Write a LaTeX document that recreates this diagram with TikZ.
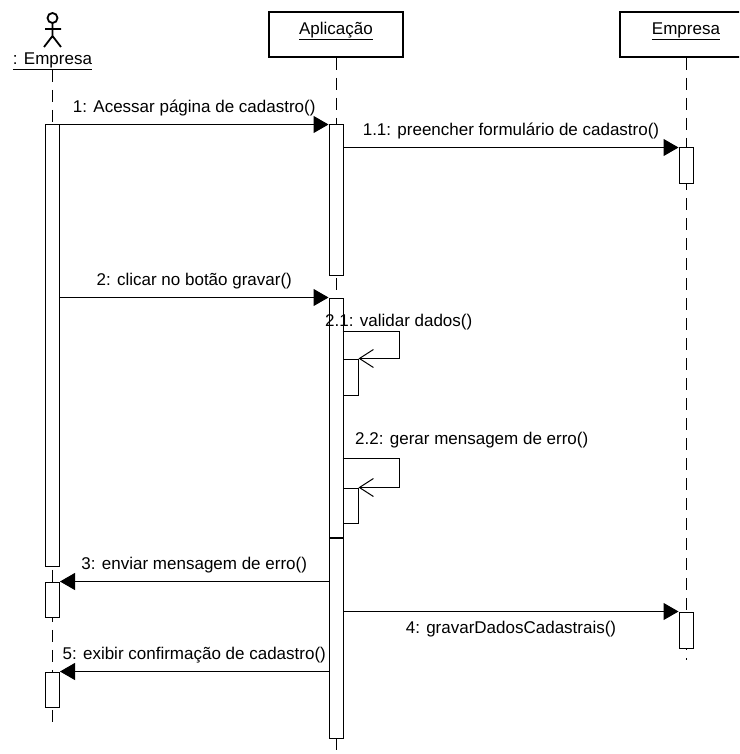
\documentclass[tikz,border=0pt]{standalone}
\usepackage{fontspec}
\setmainfont{Liberation Sans}
\usepackage{tikz}
\usetikzlibrary{arrows.meta,positioning,calc}

\begin{document}
\begin{tikzpicture}[
    x=1pt, y=-1pt,
    every node/.style={font=\fontsize{17}{20}\selectfont},
    objbox/.style={rectangle, draw, line width=2pt, minimum width=134pt, minimum height=45pt, text depth=12pt, inner sep=0pt},
    act/.style={rectangle, draw, fill=white, line width=1pt, minimum width=14pt, inner sep=0pt},
    lifeline/.style={line width=1pt, dash pattern=on 12pt off 8pt},
    msg/.style={-{Triangle[length=15pt,width=17pt]}, line width=1pt},
    selfmsg/.style={-{Straight Barb[length=14pt,width=18pt]}, line width=1pt},
    lbl/.style={inner sep=0pt}
]
\useasboundingbox (0,0) rectangle (739,754);
\clip (0,0) rectangle (739,754);

% Actor
\draw[line width=1.8pt] (52.5,18) circle[radius=5pt];
\draw[line width=1.8pt] (52.5,23) -- (52.5,36) (45,29) -- (61,29) (44,47) -- (52.5,36) -- (61,47);
\node[lbl] (actor) at (52.5,61) {\underline{: Empresa}};

% Objects
\node[objbox] (apphead) at (336,34.5) {\underline{Aplicação}};
\node[objbox, minimum width=132pt] (emphead) at (686,34.5) {\underline{Empresa}};

% Lifelines
\coordinate (actend) at (52.5,725);
\coordinate (append) at (336,754);
\coordinate (empend) at (686,660);
\draw[lifeline] (actor.south) -- (actend);
\draw[lifeline] (apphead.south) -- (append);
\draw[lifeline] (emphead.south) -- (empend);

% Activations
\node[act, minimum height=441pt] (a1) at (52.5,345.5) {};
\node[act, minimum height=35pt] (a2) at (52.5,599.5) {};
\node[act, minimum height=35pt] (a3) at (52.5,689.5) {};
\node[act, minimum height=150pt] (p1) at (336,200) {};
\node[act, minimum height=239pt] (p2) at (336,417.5) {};
\node[act, minimum height=200pt, below=0pt of p2] (p3) {};
\node[act, minimum width=15pt, minimum height=36pt] (s1) at (350.5,377) {};
\node[act, minimum width=15pt, minimum height=35pt] (s2) at (350.5,505.5) {};
\node[act, minimum height=35pt] (e1) at (686,165.5) {};
\node[act, minimum height=36pt] (e2) at (686,630) {};

% Messages
\draw[msg] (a1.north east) -- node[lbl, above=8pt] (l1) {1: Acessar página de cadastro()} (p1.north west);
\draw[msg] (p1.east |- e1.north) -- node[lbl, above=8pt] (l11) {1.1: preencher formulário de cadastro()} (e1.north west);
\draw[msg] (a1.east |- p2.north) -- node[lbl, above=8pt] (l2) {2: clicar no botão gravar()} (p2.north west);

% Self calls
\draw[selfmsg] (s1.north west) ++(0,-27) -- ++(57,0) |- (s1.north east);
\node[lbl, anchor=base west] (l21) at (325,326) {2.1: validar dados()};
\draw[selfmsg] (s2.north west) ++(0,-29) -- ++(57,0) |- (s2.north east);
\node[lbl, anchor=base west] (l22) at (355,444) {2.2: gerar mensagem de erro()};

% Replies
\draw[msg] (p3.west |- a2.north) -- node[lbl, above=8pt] (l3) {3: enviar mensagem de erro()} (a2.north east);
\draw[msg] (p3.east |- e2.north) -- node[lbl, below=9.5pt] (l4) {4: gravarDadosCadastrais()} (e2.north west);
\draw[msg] (p3.west |- a3.north) -- node[lbl, above=8pt] (l5) {5: exibir confirmação de cadastro()} (a3.north east);

\end{tikzpicture}
\end{document}
